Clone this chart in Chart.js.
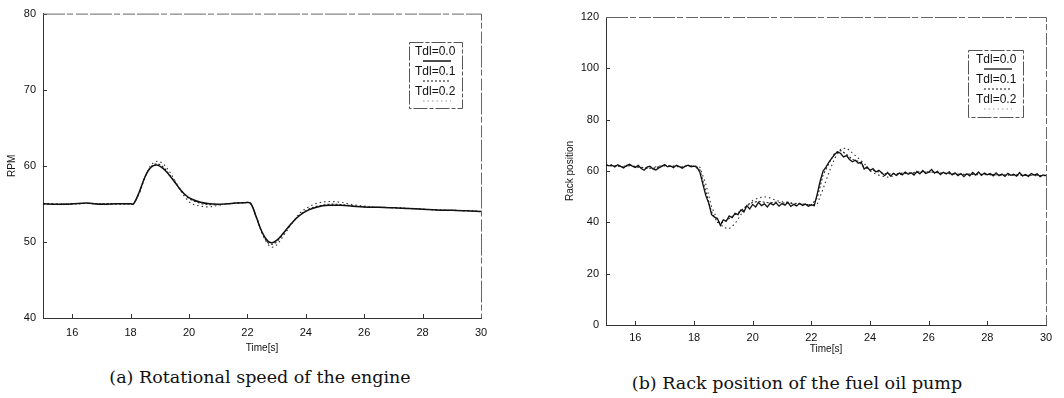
<!DOCTYPE html>
<html>
<head>
<meta charset="utf-8">
<script src="https://cdn.jsdelivr.net/npm/chart.js@4/dist/chart.umd.min.js"></script>
<style>
  body { margin: 0; background: #fff; }
  #wrap { position: relative; width: 1064px; height: 398px; overflow: hidden; background: #fff; }
  canvas { position: absolute; top: 0; }
  .cap { position: absolute; font-family: "DejaVu Serif", serif; font-size: 17.5px; color: #111; white-space: nowrap; transform: translate(-50%, -50%); }
</style>
</head>
<body>
<div id="wrap">
  <canvas id="rpm" width="520" height="360" style="left:0"></canvas>
  <canvas id="rack" width="534" height="365" style="left:530px"></canvas>
  <div class="cap" style="left:260px;top:377px">(a) Rotational speed of the engine</div>
  <div class="cap" style="left:797px;top:383px">(b) Rack position of the fuel oil pump</div>
</div>
<script>
// ---- (a) engine speed, RPM ----
const rpmTime = [15.0, 15.5, 16.0, 16.5, 17.0, 17.5, 18.0, 18.1, 18.3, 18.5, 18.7, 18.9, 19.1, 19.3, 19.5, 19.7, 19.9, 20.1,
  20.4, 20.7, 21.0, 21.3, 21.6, 21.9, 22.1, 22.3, 22.5, 22.7, 22.85, 23.0, 23.2, 23.5, 23.8, 24.1, 24.4,
  24.8, 25.2, 25.6, 26.0, 26.5, 27.0, 27.5, 28.0, 28.5, 29.0, 29.5, 30.0];
const rpmTdl00 = [55.0, 54.95, 55.0, 55.1, 54.95, 55.0, 55.0, 55.0, 56.6, 58.6, 59.8, 60.1, 59.7, 58.9, 57.9, 56.9, 56.1, 55.6,
  55.2, 55.0, 54.95, 55.0, 55.1, 55.15, 55.1, 53.3, 51.3, 50.1, 49.9, 50.2, 51.0, 52.4, 53.5, 54.2, 54.6,
  54.8, 54.8, 54.7, 54.6, 54.55, 54.5, 54.4, 54.3, 54.2, 54.15, 54.1, 54.0];
const rpmTdl01 = [55.0, 54.95, 55.0, 55.05, 55.0, 55.0, 55.0, 55.0, 56.5, 58.6, 59.9, 60.25, 59.9, 59.0, 58.0, 56.9, 56.0, 55.5,
  55.05, 54.9, 54.9, 55.0, 55.1, 55.15, 55.1, 53.3, 51.2, 49.9, 49.7, 50.0, 50.9, 52.4, 53.6, 54.3, 54.7,
  54.95, 54.9, 54.75, 54.6, 54.55, 54.5, 54.4, 54.3, 54.2, 54.15, 54.1, 54.0];
const rpmTdl02 = [55.0, 55.0, 55.0, 55.05, 55.0, 55.0, 55.0, 55.0, 56.4, 58.6, 60.1, 60.6, 60.3, 59.4, 58.2, 56.8, 55.7, 55.0,
  54.7, 54.6, 54.8, 55.0, 55.1, 55.15, 55.1, 53.4, 51.2, 49.7, 49.3, 49.6, 50.6, 52.3, 53.8, 54.6, 55.1,
  55.3, 55.2, 54.9, 54.7, 54.55, 54.5, 54.4, 54.3, 54.2, 54.15, 54.1, 54.0];

// ---- (b) rack position ----
const rackTime = [15.0, 15.1, 15.2, 15.3, 15.4, 15.5, 15.6, 15.7, 15.8, 15.9, 16.0, 16.1, 16.2, 16.3, 16.4, 16.5, 16.6, 16.7, 16.8, 16.9,
  17.0, 17.1, 17.2, 17.3, 17.4, 17.5, 17.6, 17.7, 17.8, 17.9, 18.0, 18.1, 18.2, 18.3, 18.4, 18.5, 18.6, 18.7, 18.8, 18.9,
  19.0, 19.1, 19.2, 19.3, 19.4, 19.5, 19.6, 19.7, 19.8, 19.9, 20.0, 20.1, 20.2, 20.3, 20.4, 20.5, 20.6, 20.7, 20.8, 20.9,
  21.0, 21.1, 21.2, 21.3, 21.4, 21.5, 21.6, 21.7, 21.8, 21.9, 22.0, 22.1, 22.2, 22.3, 22.4, 22.5, 22.6, 22.7, 22.8, 22.9,
  23.0, 23.1, 23.2, 23.3, 23.4, 23.5, 23.6, 23.7, 23.8, 23.9, 24.0, 24.1, 24.2, 24.3, 24.4, 24.5, 24.6, 24.7, 24.8, 24.9,
  25.0, 25.1, 25.2, 25.3, 25.4, 25.5, 25.6, 25.7, 25.8, 25.9, 26.0, 26.1, 26.2, 26.3, 26.4, 26.5, 26.6, 26.7, 26.8, 26.9,
  27.0, 27.1, 27.2, 27.3, 27.4, 27.5, 27.6, 27.7, 27.8, 27.9, 28.0, 28.1, 28.2, 28.3, 28.4, 28.5, 28.6, 28.7, 28.8, 28.9,
  29.0, 29.1, 29.2, 29.3, 29.4, 29.5, 29.6, 29.7, 29.8, 29.9, 30.0];
const rackTdl00 = [62.5, 62.0, 62.3, 61.6, 62.4, 61.8, 61.2, 62.1, 62.6, 61.9, 61.4, 62.2, 61.0, 60.3, 61.5, 61.9, 60.8, 60.4, 61.2, 61.8,
  62.5, 61.6, 62.0, 61.3, 62.2, 61.7, 61.1, 61.9, 62.3, 61.6, 61.9, 61.5, 59.5, 55.0, 50.5, 47.5, 43.0, 42.0, 41.5, 38.8,
  41.0, 40.5, 42.5, 41.8, 43.5, 43.0, 44.8, 44.0, 46.5, 45.2, 47.0, 46.0, 47.8, 46.5, 47.2, 46.0, 47.5, 46.8, 47.6, 46.3,
  47.3, 46.7, 47.8, 46.2, 47.0, 46.4, 47.4, 46.6, 47.1, 46.3, 46.8, 46.5, 51.0, 56.0, 60.0, 61.5, 63.5, 65.0, 66.5, 67.5,
  66.8, 65.5, 66.0, 64.5, 63.6, 64.2, 63.0, 63.5, 60.8, 61.6, 60.2, 60.9, 59.6, 60.3, 59.3, 58.2, 59.4, 58.0, 59.1, 58.3,
  59.2, 58.5, 59.6, 58.7, 59.3, 58.4, 59.8, 58.9, 60.2, 59.0, 59.5, 60.6, 59.2, 59.9, 58.6, 59.5, 58.8, 59.7, 58.5, 59.3,
  58.2, 59.0, 57.8, 58.9, 58.1, 59.4, 58.4, 59.6, 58.3, 59.2, 58.5, 59.0, 58.1, 59.3, 58.2, 58.8, 57.9, 59.1, 58.3, 58.7,
  58.0, 59.4, 58.1, 58.6, 57.9, 59.0, 58.4, 58.9, 57.8, 58.5, 58.2];
const rackTimeCoarse = [15.0, 15.2, 15.4, 15.6, 15.8, 16.0, 16.2, 16.4, 16.6, 16.8, 17.0, 17.2, 17.4, 17.6, 17.8, 18.0,
  18.2, 18.4, 18.6, 18.8, 19.0, 19.2, 19.4, 19.6, 19.8, 20.0, 20.2, 20.4, 20.6, 20.8, 21.0,
  21.2, 21.4, 21.6, 21.8, 22.0, 22.2, 22.4, 22.6, 22.8, 23.0, 23.2, 23.4, 23.6, 23.8, 24.0,
  24.2, 24.4, 24.6, 24.8, 25.0, 25.2, 25.4, 25.6, 25.8, 26.0, 26.2, 26.4, 26.6, 26.8, 27.0,
  27.2, 27.4, 27.6, 27.8, 28.0, 28.2, 28.4, 28.6, 28.8, 29.0, 29.2, 29.4, 29.6, 29.8, 30.0];
const rackTdl01 = [62.2, 62.0, 61.9, 61.5, 62.3, 61.7, 61.3, 61.2, 61.0, 61.6, 62.2, 61.8, 62.0, 61.4, 62.1, 61.8,
  60.5, 52.0, 44.0, 40.0, 40.0, 41.5, 43.0, 44.5, 46.5, 47.8, 48.2, 47.8, 47.6, 47.9, 47.5,
  47.6, 47.2, 47.3, 47.0, 46.8, 49.5, 58.5, 63.0, 67.0, 68.0, 66.5, 64.5, 63.8, 61.5, 60.5,
  60.0, 59.2, 58.8, 58.9, 59.0, 59.3, 59.1, 59.4, 59.6, 59.5, 59.6, 59.0, 59.1, 58.9, 58.7,
  58.6, 58.8, 58.9, 58.7, 58.8, 58.6, 58.5, 58.4, 58.6, 58.5, 58.4, 58.3, 58.6, 58.2, 58.3];
const rackTdl02 = [62.0, 62.4, 61.8, 61.9, 62.0, 61.6, 61.5, 61.0, 61.4, 61.9, 62.0, 62.1, 61.7, 61.6, 62.2, 62.0,
  61.5, 55.0, 46.0, 41.0, 38.0, 37.5, 39.5, 43.0, 46.5, 48.5, 49.5, 50.0, 49.5, 48.5, 48.0,
  47.8, 47.5, 47.2, 47.0, 46.8, 47.0, 53.0, 59.5, 65.0, 68.5, 69.0, 67.0, 65.0, 63.0, 60.0,
  58.8, 58.0, 57.6, 58.0, 58.6, 59.0, 59.3, 59.6, 59.8, 59.7, 59.5, 59.3, 59.1, 58.9, 58.8,
  58.7, 58.7, 58.6, 58.6, 58.5, 58.5, 58.4, 58.4, 58.4, 58.3, 58.3, 58.3, 58.2, 58.2, 58.2];

const timeTicks = [16, 18, 20, 22, 24, 26, 28, 30];
const rpmTicks = [40, 50, 60, 70, 80];
const rackTicks = [0, 20, 40, 60, 80, 100, 120];
const legendLabels = ["Tdl=0.0", "Tdl=0.1", "Tdl=0.2"];

const INK = "#111";
const SANS = "'Liberation Sans', Arial, sans-serif";

const pts = (xs, ys) => xs.map((x, i) => ({ x: x, y: ys[i] }));

// frame, inward ticks and the small boxed legend
const framePlugin = {
  id: "frame",
  afterDatasetsDraw(chart, args, opts) {
    const { ctx, chartArea: a, scales } = chart;
    ctx.save();
    ctx.strokeStyle = "#333";
    ctx.lineWidth = 1;
    ctx.beginPath();
    scales.x.ticks.forEach((t) => {
      const px = Math.round(scales.x.getPixelForValue(t.value)) + 0.5;
      ctx.moveTo(px, a.bottom);
      ctx.lineTo(px, a.bottom - 4);
    });
    scales.y.ticks.forEach((t) => {
      const py = Math.round(scales.y.getPixelForValue(t.value)) + 0.5;
      ctx.moveTo(a.left, py);
      ctx.lineTo(a.left + 4, py);
    });
    ctx.stroke();

    ctx.strokeStyle = "#666";
    ctx.setLineDash([22, 2, 6, 3, 12, 2]);
    ctx.beginPath();
    ctx.moveTo(a.left, a.top + 0.5);
    ctx.lineTo(a.right + 0.5, a.top + 0.5);
    ctx.lineTo(a.right + 0.5, a.bottom);
    ctx.stroke();

    // legend
    const L = opts.legend;
    ctx.setLineDash([14, 2, 4, 2]);
    ctx.strokeStyle = "#555";
    ctx.strokeRect(L.x + 0.5, L.y + 0.5, L.w, L.h);
    ctx.font = "12px " + SANS;
    ctx.fillStyle = INK;
    ctx.textBaseline = "middle";
    chart.data.datasets.forEach((ds, i) => {
      const ty = L.y + 10 + i * 20;
      ctx.fillText(ds.label, L.x + L.tx, ty);
      ctx.setLineDash(ds.borderDash || []);
      ctx.lineWidth = ds.borderWidth;
      ctx.strokeStyle = i === 2 ? "#999" : INK;
      ctx.beginPath();
      ctx.moveTo(L.x + L.tx + 8, ty + 9);
      ctx.lineTo(L.x + L.tx + 36, ty + 9);
      ctx.stroke();
    });
    ctx.restore();
  },
};

function makeChart(id, datasets, yTicks, yTitle, lay) {
  return new Chart(document.getElementById(id), {
    type: "line",
    data: { datasets: datasets },
    plugins: [framePlugin],
    options: {
      responsive: false,
      animation: false,
      events: [],
      layout: { padding: lay.padding },
      plugins: {
        legend: { display: false },
        tooltip: { enabled: false },
        frame: { legend: lay.legend },
      },
      elements: { point: { radius: 0 } },
      scales: {
        x: {
          type: "linear",
          min: 15,
          max: 30,
          afterBuildTicks: (s) => { s.ticks = timeTicks.map((v) => ({ value: v })); },
          afterFit: (s) => { s.height = lay.xh; },
          grid: { display: false, drawTicks: false, tickLength: 0 },
          border: { color: "#333", width: 1 },
          ticks: { color: INK, font: { family: SANS, size: 11 }, padding: lay.xpad, maxRotation: 0 },
          title: { display: true, text: "Time[s]", color: INK, font: { family: SANS, size: 10 }, padding: 0 },
        },
        y: {
          min: yTicks[0],
          max: yTicks[yTicks.length - 1],
          afterBuildTicks: (s) => { s.ticks = yTicks.map((v) => ({ value: v })); },
          afterFit: (s) => { s.width = lay.yw; },
          grid: { display: false, drawTicks: false, tickLength: 0 },
          border: { color: "#333", width: 1 },
          ticks: { color: INK, font: { family: SANS, size: 11 }, padding: 7 },
          title: { display: true, text: yTitle, color: INK, font: { family: SANS, size: 10 }, padding: 0 },
        },
      },
    },
  });
}

const solid = { borderColor: INK, borderWidth: 1.5, tension: 0 };
const dotA = { borderColor: "#222", borderWidth: 1.1, borderDash: [2, 2], tension: 0 };
const dotB = { borderColor: "#333", borderWidth: 1.1, borderDash: [1.5, 3], tension: 0 };

makeChart("rpm", [
  Object.assign({ label: legendLabels[0], data: pts(rpmTime, rpmTdl00) }, solid, { tension: 0.35 }),
  Object.assign({ label: legendLabels[1], data: pts(rpmTime, rpmTdl01) }, dotA, { tension: 0.35 }),
  Object.assign({ label: legendLabels[2], data: pts(rpmTime, rpmTdl02) }, dotB, { tension: 0.35 }),
], rpmTicks, "RPM", {
  padding: { left: 6, top: 11, right: 39, bottom: 6 },
  yw: 37, xh: 36, xpad: 8,
  legend: { x: 409, y: 42, w: 53, h: 66, tx: 6 },
});

makeChart("rack", [
  Object.assign({ label: legendLabels[0], data: pts(rackTime, rackTdl00) }, solid, { borderWidth: 1.3 }),
  Object.assign({ label: legendLabels[1], data: pts(rackTimeCoarse, rackTdl01) }, dotA),
  Object.assign({ label: legendLabels[2], data: pts(rackTimeCoarse, rackTdl02) }, dotB),
], rackTicks, "Rack position", {
  padding: { left: 34, top: 17, right: 18, bottom: 10 },
  yw: 42, xh: 30, xpad: 6,
  legend: { x: 438, y: 50, w: 55, h: 67, tx: 8 },
});
</script>
</body>
</html>
